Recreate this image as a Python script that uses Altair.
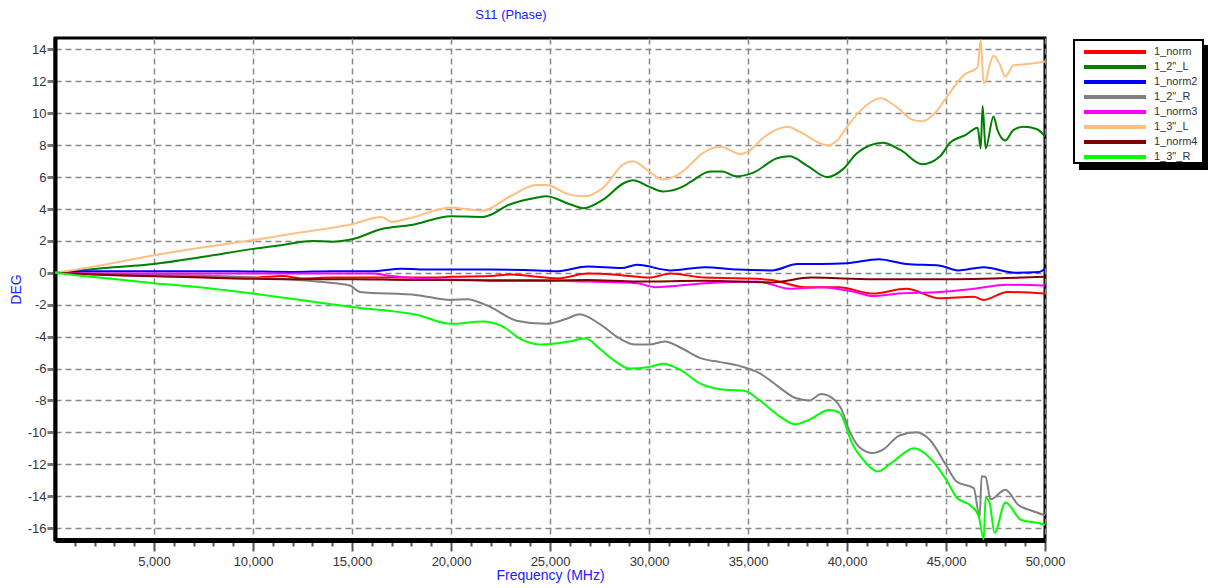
import altair as alt
import pandas as pd

series_names = ["1_norm", '1_2"_L', "1_norm2", '1_2"_R', "1_norm3", '1_3"_L', "1_norm4", '1_3"_R']
series_colors = ["#ff0000", "#008000", "#0000ff", "#808080", "#ff00ff", "#ffbf80", "#800000", "#00ff00"]

# 1_norm (red)
norm_f = [0, 2000, 5000, 8000, 10000, 11500, 12500, 14000, 16000, 17500, 19000, 20000, 22000, 23000,
          24000, 25400, 26900, 28600, 30000, 31100, 32800, 34800, 36200, 37900, 39600, 41300, 43000,
          44700, 46400, 46900, 48100, 50000]
norm_v = [0, -0.1, -0.2, -0.25, -0.3, -0.2, -0.35, -0.3, -0.3, -0.3, -0.3, -0.25, -0.2, -0.1,
          -0.2, -0.35, -0.05, -0.15, -0.3, -0.05, -0.3, -0.35, -0.45, -0.9, -0.9, -1.3, -1.0,
          -1.6, -1.5, -1.7, -1.2, -1.3]

# 1_2"_L (dark green)
l2_f = [0, 2500, 5000, 7500, 10000, 11500, 13000, 14000, 15000, 16500, 18000, 20000, 21600, 23000,
        24300, 24800, 26000, 26700, 27700, 28700, 29200, 30000, 30700, 31700, 32100, 33100, 33700,
        34400, 35300, 36500, 37100, 38000, 39000, 39800, 40500, 41800, 42700, 43800, 44700, 45200,
        46000, 46600, 46750, 46850, 47000, 47400, 47600, 48000, 48400, 48900, 49600, 50000]
l2_v = [0, 0.3, 0.55, 1.0, 1.5, 1.75, 2.0, 1.95, 2.1, 2.75, 3.0, 3.55, 3.5, 4.3,
        4.7, 4.8, 4.3, 4.05, 4.6, 5.6, 5.8, 5.4, 5.1, 5.4, 5.7, 6.35, 6.35,
        6.05, 6.3, 7.2, 7.3, 6.7, 6.0, 6.5, 7.5, 8.15, 7.7, 6.8, 7.3, 8.15,
        8.65, 9.1, 7.8, 10.45, 7.8, 9.8, 8.95, 8.3, 8.95, 9.15, 9.0, 8.55]

# 1_norm2 (blue)
norm2_f = [0, 1500, 5000, 9000, 12000, 14000, 16000, 17500, 19000, 20000, 22000, 24400, 25400, 26900,
           28600, 29400, 31100, 32800, 34500, 36200, 37500, 38700, 40000, 41600, 43000, 44700, 45600,
           46900, 48500, 49700, 50000]
norm2_v = [0, 0.1, 0.1, 0.1, 0.05, 0.1, 0.1, 0.25, 0.2, 0.2, 0.2, 0.15, 0.1, 0.4,
           0.3, 0.5, 0.15, 0.35, 0.2, 0.15, 0.55, 0.55, 0.6, 0.85, 0.55, 0.45, 0.15,
           0.35, 0.0, 0.05, 0.25]

# 1_2"_R (gray)
r2_f = [0, 5000, 10000, 13200, 14900, 15400, 18300, 20000, 20800, 22000, 23300, 24800, 25800, 26500,
        27500, 28500, 29300, 30000, 30800, 31600, 32600, 33600, 34600, 35600, 36600, 37400, 38100,
        38700, 39400, 39700, 40100, 40600, 41300, 41800, 42650, 43500, 44200, 45000, 45550, 46400,
        46700, 46800, 47000, 47250, 48000, 48650, 49300, 50000]
r2_v = [0, -0.1, -0.3, -0.55, -0.8, -1.2, -1.4, -1.7, -1.65, -2.15, -3.0, -3.2, -2.9, -2.6,
        -3.2, -4.1, -4.5, -4.5, -4.3, -4.7, -5.35, -5.6, -5.85, -6.3, -7.2, -7.85, -8.0,
        -7.6, -8.0, -8.5, -9.85, -10.9, -11.3, -11.1, -10.2, -10.0, -10.5, -12.05, -13.1, -13.5,
        -15.3, -12.75, -12.8, -14.2, -13.6, -14.55, -14.9, -15.2]

# 1_norm3 (magenta)
norm3_f = [0, 3000, 8000, 12000, 16000, 17000, 19000, 22000, 24400, 26900, 29400, 30300, 32800,
           35500, 37100, 38700, 40400, 41300, 42600, 44700, 46400, 48100, 50000]
norm3_v = [0, -0.05, -0.05, -0.05, -0.05, -0.2, -0.4, -0.45, -0.45, -0.55, -0.65, -0.9, -0.65,
           -0.55, -1.0, -0.9, -1.2, -1.45, -1.3, -1.2, -1.0, -0.75, -0.8]

# 1_3"_L (light orange)
l3_f = [0, 2000, 5000, 7500, 10000, 12500, 15000, 16500, 17000, 18000, 20000, 21600, 23000, 24300,
        24800, 26000, 26700, 27700, 28700, 29200, 30000, 30700, 31700, 32100, 32600, 33600, 34600,
        35000, 35800, 37000, 37600, 39000, 39500, 40000, 40700, 41700, 42500, 43300, 43800, 44500,
        45000, 45900, 46600, 46750, 46900, 47000, 47200, 47400, 47700, 48000, 48400, 49200, 50000]
l3_v = [0, 0.4, 1.1, 1.6, 2.05, 2.55, 3.05, 3.5, 3.2, 3.45, 4.1, 3.9, 4.8, 5.5,
        5.5, 4.9, 4.8, 5.35, 6.8, 7.0, 6.35, 5.85, 6.35, 6.8, 7.4, 7.9, 7.45,
        7.6, 8.5, 9.15, 8.85, 8.0, 8.3, 9.15, 10.2, 10.95, 10.4, 9.6, 9.5, 10.1,
        10.95, 12.4, 12.9, 14.6, 11.9, 12.0, 13.0, 13.6, 13.1, 12.3, 13.0, 13.1, 13.25]

# 1_norm4 (dark red)
norm4_f = [0, 3000, 6000, 9000, 12000, 15000, 18000, 20000, 23000, 24400, 26900, 29400, 32800,
           36200, 38200, 41300, 44700, 50000]
norm4_v = [0, -0.15, -0.25, -0.35, -0.4, -0.4, -0.45, -0.45, -0.5, -0.5, -0.45, -0.55, -0.5,
           -0.6, -0.3, -0.4, -0.4, -0.25]

# 1_3"_R (bright green)
r3_f = [0, 1800, 3100, 5000, 7300, 10000, 12400, 15000, 18300, 20000, 21600, 22500, 23600, 24600,
        26000, 26800, 27500, 28300, 29000, 30000, 30700, 31600, 32600, 33600, 34800, 35600, 36600,
        37400, 38100, 39100, 39600, 40000, 40100, 40800, 41550, 42200, 43400, 44100, 45000, 45550,
        46250, 46650, 46900, 47000, 47200, 47450, 48000, 48800, 49700, 50000]
r3_v = [0, -0.25, -0.4, -0.65, -0.9, -1.3, -1.7, -2.15, -2.65, -3.2, -3.05, -3.3, -4.2, -4.5,
        -4.3, -4.1, -4.75, -5.55, -6.0, -5.9, -5.7, -6.1, -6.95, -7.3, -7.4, -8.0, -9.0,
        -9.5, -9.2, -8.6, -8.75, -9.8, -10.2, -11.7, -12.45, -11.95, -11.0, -11.5, -12.95, -14.1,
        -14.6, -15.25, -16.7, -14.1, -14.4, -16.3, -14.4, -15.5, -15.7, -15.8]

series_data = {
    "1_norm": (norm_f, norm_v),
    '1_2"_L': (l2_f, l2_v),
    "1_norm2": (norm2_f, norm2_v),
    '1_2"_R': (r2_f, r2_v),
    "1_norm3": (norm3_f, norm3_v),
    '1_3"_L': (l3_f, l3_v),
    "1_norm4": (norm4_f, norm4_v),
    '1_3"_R': (r3_f, r3_v),
}

x_ticks = list(range(1000, 50001, 1000))
y_ticks = list(range(-16, 15, 2))

rows = []
for name in series_names:
    fs, vs = series_data[name]
    for f, v in zip(fs, vs):
        rows.append({"series": name, "freq": f, "deg": v})
df = pd.DataFrame(rows)

FONT = "Liberation Sans"
BLUE = "#2020ff"
color_scale = alt.Scale(domain=series_names, range=series_colors)

major = "datum.value % 5000 === 0"

x_axis = alt.Axis(
    title="Frequency (MHz)", titleColor=BLUE, titleFont=FONT, titleFontSize=14,
    titleFontWeight="normal", titleY=28, titleBaseline="top",
    values=x_ticks,
    labelExpr="datum.value % 5000 === 0 ? format(datum.value, ',') : ''",
    labelFont=FONT, labelFontSize=13, labelColor="#333333", labelPadding=4,
    labelFlush=False, labelOverlap=False,
    domainColor="black", domainWidth=5,
    tickColor="#555555", tickWidth=2,
    tickSize={"condition": {"test": major, "value": 11}, "value": 6},
    gridColor="#888888", gridDash=[6, 4], gridWidth=1.5,
    gridOpacity={"condition": {"test": major, "value": 1}, "value": 0},
)

y_axis = alt.Axis(
    title="DEG", titleColor=BLUE, titleFont=FONT, titleFontSize=14,
    titleFontWeight="normal", titlePadding=4,
    values=y_ticks, labelExpr="'' + datum.value",
    labelFont=FONT, labelFontSize=13, labelColor="#333333", labelPadding=1,
    domainColor="black", domainWidth=4,
    tickColor="#777777", tickWidth=3, tickSize=8,
    gridColor="#888888", gridDash=[6, 4], gridWidth=1.5,
)

lines = alt.Chart(df).mark_line(strokeWidth=2, clip=True, interpolate="monotone").encode(
    x=alt.X("freq:Q", scale=alt.Scale(domain=[0, 50000], nice=False), axis=x_axis),
    y=alt.Y("deg:Q", scale=alt.Scale(domain=[-16.75, 14.72], nice=False), axis=y_axis),
    color=alt.Color("series:N", scale=color_scale, legend=None),
)

# hand-drawn legend (box with shadow, thick line symbols)
leg_df = pd.DataFrame({"series": series_names})
one = pd.DataFrame({"k": [0]})
shadow = alt.Chart(one).mark_rect(fill="black").encode(
    x=alt.value(1024), x2=alt.value(1153), y=alt.value(7), y2=alt.value(132))
box = alt.Chart(one).mark_rect(fill="white", stroke="black", strokeWidth=2).encode(
    x=alt.value(1019), x2=alt.value(1148), y=alt.value(2), y2=alt.value(125))
leg_y = alt.Y("series:N", sort=series_names, axis=None,
              scale=alt.Scale(type="point", domain=series_names, range=[14, 119], padding=0))
leg_lines = alt.Chart(leg_df).mark_rule(strokeWidth=4).encode(
    x=alt.value(1029), x2=alt.value(1091), y=leg_y,
    color=alt.Color("series:N", scale=color_scale, legend=None))
leg_text = alt.Chart(leg_df).mark_text(align="left", baseline="middle", font=FONT,
                                       fontSize=11, color="#333333").encode(
    x=alt.value(1099), y=leg_y, text="series:N")

chart = alt.layer(lines, shadow, box, leg_lines, leg_text).resolve_scale(
    y="independent"
).properties(
    width=990, height=502,
    title=alt.TitleParams("S11 (Phase)", color=BLUE, font=FONT, fontSize=13,
                          fontWeight="normal", anchor="middle", dx=-39,
                          baseline="bottom", offset=3),
    autosize=alt.AutoSizeParams(type="none"),
    padding={"left": 47, "top": 30, "right": 163, "bottom": 43},
).configure_view(stroke="black", strokeWidth=3)

chart.save("out.html", embed_options={"renderer": "svg", "actions": False})
